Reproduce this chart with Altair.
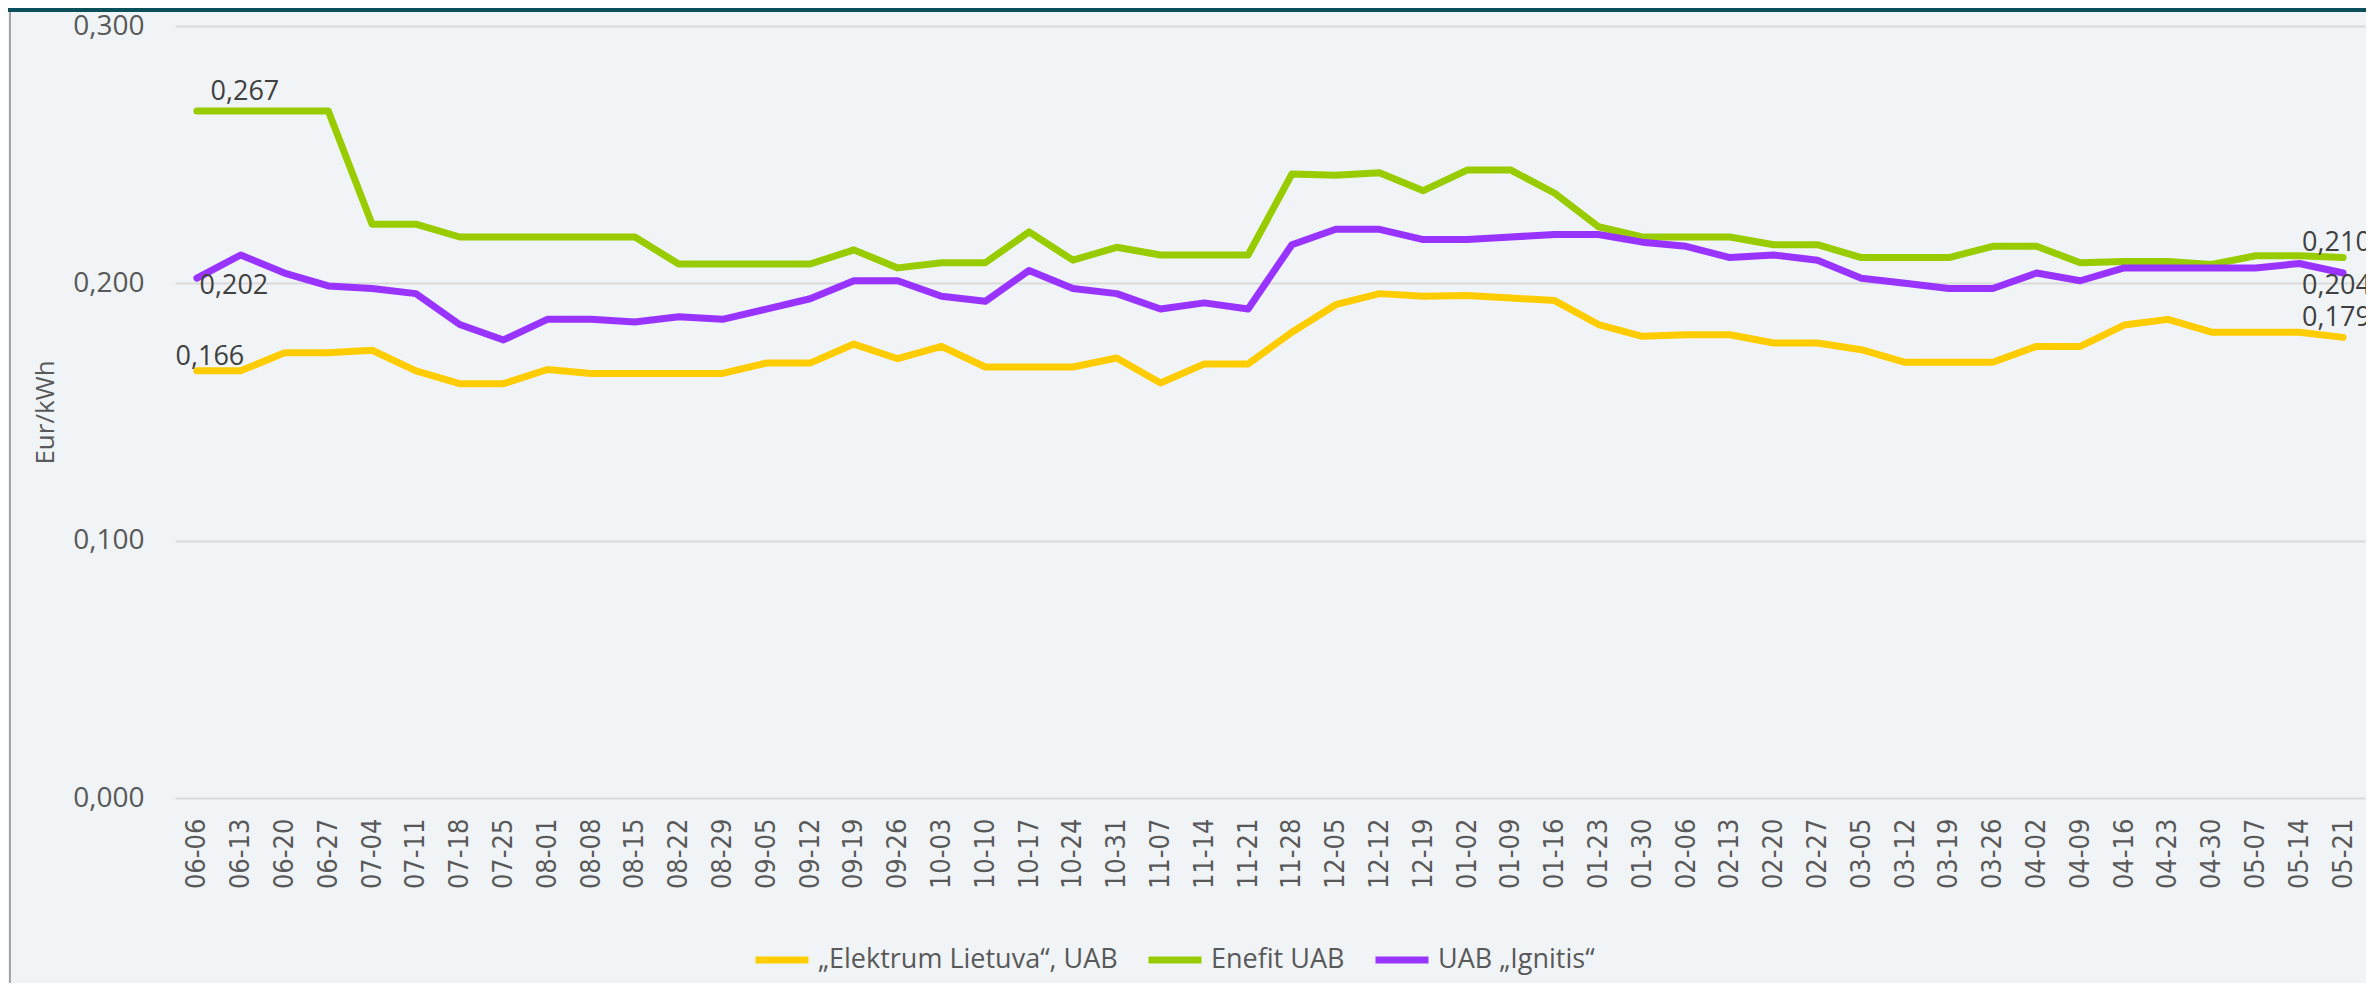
import altair as alt
import pandas as pd

dates = ["06-06","06-13","06-20","06-27","07-04","07-11","07-18","07-25","08-01","08-08",
         "08-15","08-22","08-29","09-05","09-12","09-19","09-26","10-03","10-10","10-17",
         "10-24","10-31","11-07","11-14","11-21","11-28","12-05","12-12","12-19","01-02",
         "01-09","01-16","01-23","01-30","02-06","02-13","02-20","02-27","03-05","03-12",
         "03-19","03-26","04-02","04-09","04-16","04-23","04-30","05-07","05-14","05-21"]

series_names = ["\u201eElektrum Lietuva\u201c, UAB", "Enefit UAB", "UAB \u201eIgnitis\u201c"]
series_colors = ["#FFCC00", "#99CC00", "#9933FF"]

elektrum = [0.166,0.166,0.173,0.173,0.174,0.166,0.161,0.161,0.1665,0.165,
            0.165,0.165,0.165,0.169,0.169,0.1764,0.1707,0.1755,0.1675,0.1675,
            0.1675,0.171,0.1613,0.1687,0.1687,0.181,0.1917,0.196,0.195,0.1953,
            0.1943,0.1933,0.184,0.1794,0.180,0.180,0.1768,0.1768,0.1742,0.1693,
            0.1693,0.1693,0.1755,0.1755,0.1838,0.186,0.181,0.181,0.181,0.179]

enefit = [0.267,0.267,0.267,0.267,0.223,0.223,0.218,0.218,0.218,0.218,
          0.218,0.2075,0.2075,0.2075,0.2075,0.213,0.206,0.208,0.208,0.220,
          0.209,0.214,0.211,0.211,0.211,0.2425,0.242,0.243,0.236,0.244,
          0.244,0.235,0.222,0.218,0.218,0.218,0.215,0.215,0.210,0.210,
          0.210,0.2144,0.2144,0.208,0.2085,0.2085,0.2073,0.2107,0.2107,0.210]

ignitis = [0.202,0.211,0.204,0.199,0.198,0.196,0.184,0.178,0.186,0.186,
           0.185,0.187,0.186,0.190,0.194,0.201,0.201,0.195,0.193,0.205,
           0.198,0.196,0.190,0.1924,0.190,0.215,0.221,0.221,0.217,0.217,
           0.218,0.219,0.219,0.216,0.2144,0.210,0.211,0.209,0.202,0.200,
           0.198,0.198,0.204,0.201,0.206,0.206,0.206,0.206,0.2077,0.204]

values_by_series = [elektrum, enefit, ignitis]

rows = []
for name, vals in zip(series_names, values_by_series):
    for d, v in zip(dates, vals):
        rows.append({"date": d, "series": name, "value": v})
df = pd.DataFrame(rows)

LABEL_FONT = "Open Sans"
TEXT_COLOR = "#595959"

x_enc = alt.X("date:N", sort=dates,
              axis=alt.Axis(title=None, labelAngle=-90, labelFont="DejaVu Sans Condensed",
                            labelFontSize=27, labelColor=TEXT_COLOR, labelPadding=20,
                            ticks=False, domain=False, grid=False, labelOverlap=False))
y_enc = alt.Y("value:Q", scale=alt.Scale(domain=[0, 0.3], nice=False, zero=True),
              axis=alt.Axis(title="Eur/kWh", values=[0, 0.1, 0.2, 0.3],
                            labelExpr="replace(format(datum.value, '.3f'), '.', ',')",
                            labelFont=LABEL_FONT, labelFontSize=28, labelColor=TEXT_COLOR,
                            labelPadding=31, ticks=False, domain=False,
                            grid=True, gridColor="#D9D9D9", gridWidth=2,
                            titleFont=LABEL_FONT, titleFontSize=26, titleFontWeight="normal",
                            titleColor=TEXT_COLOR, titlePadding=14))

base = alt.Chart(df)

lines = base.mark_line(strokeWidth=7, strokeJoin="round", strokeCap="round").encode(
    x=x_enc,
    y=y_enc,
    color=alt.Color("series:N", sort=series_names,
                    scale=alt.Scale(domain=series_names, range=series_colors),
                    legend=alt.Legend(title=None, orient="none", legendX=577, legendY=904,
                                      direction="horizontal", symbolType="stroke",
                                      symbolStrokeWidth=7, symbolSize=2809,
                                      labelFont=LABEL_FONT, labelFontSize=27,
                                      labelColor=TEXT_COLOR, labelOffset=6,
                                      columnPadding=16, padding=0, labelLimit=600)),
)

# data labels: first and last point of each series
label_specs = [
    (series_names[1], dates[0], 48, -19, "center"),
    (series_names[2], dates[0], 37, 8, "center"),
    (series_names[0], dates[0], 13, -14, "center"),
    (series_names[1], dates[-1], -41, -15, "left"),
    (series_names[2], dates[-1], -41, 13, "left"),
    (series_names[0], dates[-1], -41, -19, "left"),
]

label_layers = []
for s, d, dx, dy, al in label_specs:
    layer = base.transform_filter(
        (alt.datum.series == s) & (alt.datum.date == d)
    ).transform_calculate(
        lbl="replace(format(datum.value, '.3f'), '.', ',')"
    ).mark_text(dx=dx, dy=dy, align=al, baseline="middle", font=LABEL_FONT,
                fontSize=27, color="#404040").encode(
        x=x_enc, y=y_enc, text="lbl:N"
    )
    label_layers.append(layer)

deco_df = pd.DataFrame({"k": [0]})
top_bar = alt.Chart(deco_df).mark_rule(color="#0B4F5A", strokeWidth=4).encode(
    x=alt.value(-167), x2=alt.value(2191), y=alt.value(-16)
)
left_border = alt.Chart(deco_df).mark_rule(color="#A6A6A6", strokeWidth=2).encode(
    x=alt.value(-165), y=alt.value(-14), y2=alt.value(957)
)

chart = alt.layer(lines, *label_layers, top_bar, left_border).properties(
    width=2190, height=772,
    autosize=alt.AutoSizeParams(type="none"),
    padding={"left": 167, "top": 18, "right": 1, "bottom": 185},
    background="#F0F4F7",
).configure_view(stroke=None)

chart.save("out.html", embed_options={"renderer": "svg", "actions": False})
